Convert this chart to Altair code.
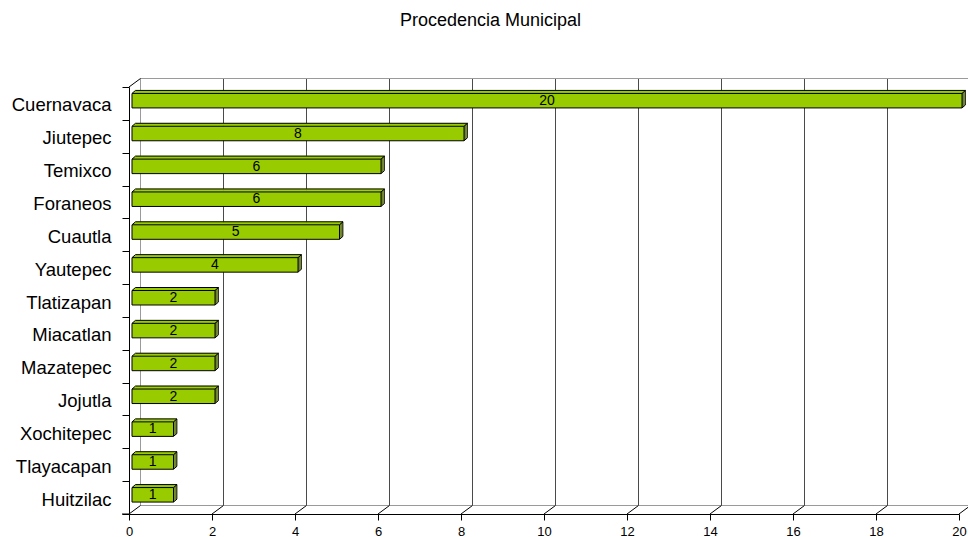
import altair as alt
import pandas as pd

# ---- data ----
municipios = ["Cuernavaca", "Jiutepec", "Temixco", "Foraneos", "Cuautla", "Yautepec",
              "Tlatizapan", "Miacatlan", "Mazatepec", "Jojutla", "Xochitepec",
              "Tlayacapan", "Huitzilac"]
valores = [20, 8, 6, 6, 5, 4, 2, 2, 2, 2, 1, 1, 1]
ticks_x = [0, 2, 4, 6, 8, 10, 12, 14, 16, 18, 20]
titulo = "Procedencia Municipal"

df = pd.DataFrame({"municipio": municipios, "valor": valores})
df_ticks = pd.DataFrame({"t": ticks_x})

# ---- geometry / style ----
W, H = 830, 427
DX, DY = 11.5, 8.5      # depth of the walls
BX, BY = 3.5, 3.0       # depth of the bars
BAR0 = 3.0              # bars start slightly behind the front axis
FRONT_C, FRONT_S = -2.75, 14.5
FONT = "Liberation Sans"
VERDE = "#99CC00"
OSCURO = "#4d6600"
GRIS = "#9a9a9a"

x_scale = alt.Scale(domain=[0, 20], nice=False, zero=True)
y_scale = alt.Scale(domain=municipios, paddingInner=0, paddingOuter=0)

x_axis = alt.Axis(values=ticks_x, format="d", tickSize=6, tickColor="black",
                  domainColor="black", labelFontSize=13, labelFont=FONT,
                  labelColor="black", labelPadding=5, labelFlush=False,
                  grid=False, title=None)
y_axis = alt.Axis(tickBand="extent", tickSize=7, tickColor="black", domainColor="black",
                  labelFontSize=18.5, labelFont=FONT, labelColor="black",
                  labelPadding=11, labelOffset=1.5, grid=False, title=None)


def X(field):
    return alt.X(field, scale=x_scale, axis=x_axis, title=None)


Y = alt.Y("municipio:N", scale=y_scale, sort=municipios, axis=y_axis, title=None)

ticks_src = alt.Chart(df_ticks)
zero_src = alt.Chart(df_ticks).transform_filter("datum.t == 0")

# back wall gridlines
grid = ticks_src.transform_filter("datum.t > 0").mark_rule(
    color="#4a4a4a", strokeWidth=1, xOffset=DX).encode(
    x=X("t:Q"), y=alt.value(-DY), y2=alt.value(H - DY))
wall0 = zero_src.mark_rule(color=GRIS, strokeWidth=1, xOffset=DX).encode(
    x=X("t:Q"), y=alt.value(-DY), y2=alt.value(H - DY))
top_line = zero_src.mark_rule(color=GRIS, strokeWidth=1, xOffset=DX, x2Offset=DX + 10).encode(
    x=alt.datum(0, scale=x_scale, axis=x_axis), x2=alt.datum(20), y=alt.value(-DY))
floor_line = zero_src.mark_rule(color=GRIS, strokeWidth=1, xOffset=DX, x2Offset=DX + 10).encode(
    x=alt.datum(0, scale=x_scale, axis=x_axis), x2=alt.datum(20), y=alt.value(H - DY))
floor_diag = ticks_src.mark_rule(color="black", strokeWidth=1, x2Offset=DX).encode(
    x=X("t:Q"), x2="t:Q", y=alt.value(H), y2=alt.value(H - DY))
top_diag = zero_src.mark_rule(color="black", strokeWidth=1, x2Offset=DX).encode(
    x=X("t:Q"), x2="t:Q", y=alt.value(0), y2=alt.value(-DY))
corner_tick = zero_src.mark_rule(color="black", strokeWidth=1, xOffset=-7).encode(
    x=X("t:Q"), x2="t:Q", y=alt.value(H))

bars = alt.Chart(df).transform_calculate(inicio="0", mitad="datum.valor / 2")

layers = [grid, wall0, top_line, floor_line, floor_diag, top_diag, corner_tick]

# top face of each bar (thin sheared strips)
for k in range(1, 5):
    off = BAR0 + BX * k / 4
    layers.append(bars.mark_bar(color=VERDE, size=1.3, xOffset=off, x2Offset=off,
                                yOffset=-10 - BY * k / 4 + 0.4).encode(
        x=X("inicio:Q"), x2="valor:Q", y=Y))

# side face of each bar
for k in range(1, 5):
    layers.append(bars.mark_bar(color=OSCURO, size=FRONT_S,
                                xOffset=BAR0 + BX * (k - 1) / 4, x2Offset=BAR0 + BX * k / 4,
                                yOffset=FRONT_C - BY * k / 4).encode(
        x=X("valor:Q"), x2="valor:Q", y=Y))

# outline edges
layers.append(bars.mark_rule(color="black", strokeWidth=1, xOffset=BAR0 + BX,
                             x2Offset=BAR0 + BX, yOffset=-13).encode(
    x=X("inicio:Q"), x2="valor:Q", y=Y))
layers.append(bars.mark_tick(color="black", orient="vertical", size=FRONT_S, thickness=1,
                             xOffset=BAR0 + BX, yOffset=FRONT_C - BY).encode(
    x=X("valor:Q"), y=Y))
for fld, yo in [("inicio", -10), ("valor", -10), ("valor", 4.5)]:
    layers.append(bars.mark_rule(color="black", strokeWidth=1, xOffset=BAR0,
                                 x2Offset=BAR0 + BX, yOffset=yo, y2Offset=yo - BY).encode(
        x=X(f"{fld}:Q"), x2=f"{fld}:Q", y=Y, y2="municipio:N"))

# front face
layers.append(bars.mark_bar(color=VERDE, stroke="black", strokeWidth=1, size=FRONT_S,
                            xOffset=BAR0, x2Offset=BAR0, yOffset=FRONT_C).encode(
    x=X("inicio:Q"), x2="valor:Q", y=Y))

# value labels
layers.append(bars.mark_text(font=FONT, fontSize=14, color="black", dx=BAR0,
                             dy=-2.5, baseline="middle").encode(
    x=X("mitad:Q"), y=Y, text="valor:Q"))

chart = alt.layer(*layers).properties(
    width=W, height=H,
    title=alt.TitleParams(titulo, fontSize=18, font=FONT, fontWeight="normal",
                          color="black", anchor="middle", dx=-53.5, offset=30,
                          baseline="bottom"),
    autosize=alt.AutoSizeParams(type="none"),
    padding={"left": 129, "top": 87, "right": 9, "bottom": 23},
    background="white",
).configure_view(stroke=None)

chart.save("out.html", embed_options={"renderer": "svg", "actions": False})
